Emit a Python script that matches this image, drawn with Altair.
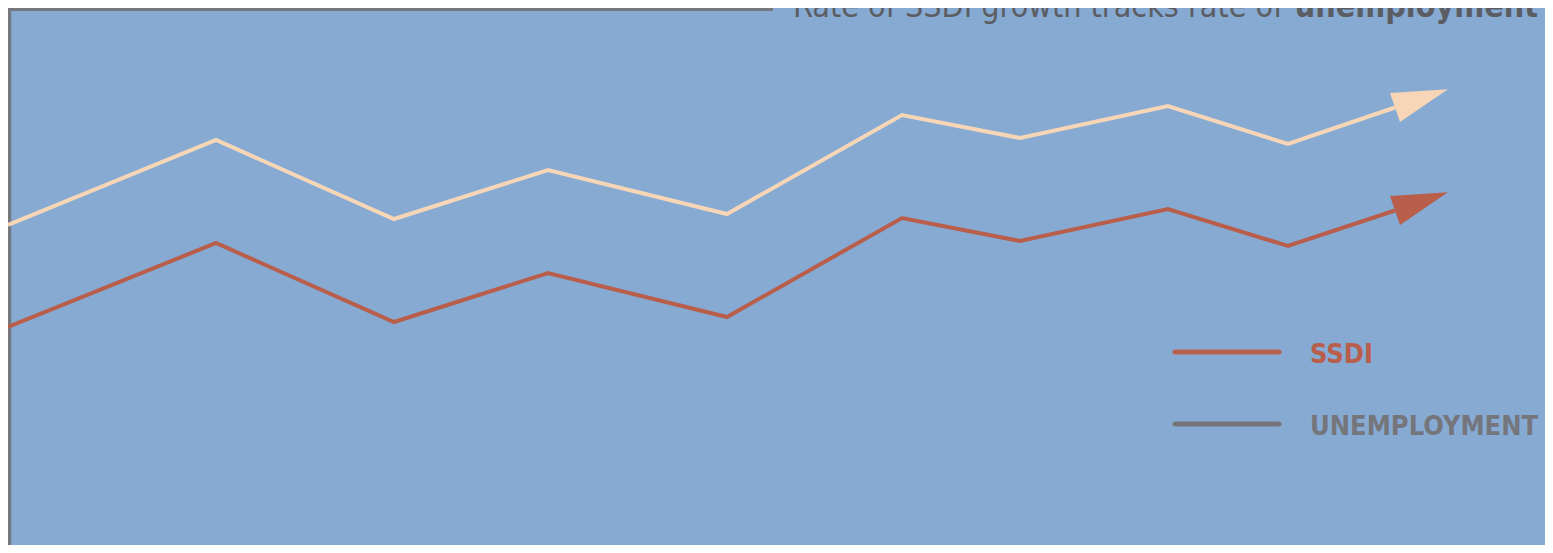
import altair as alt
import pandas as pd

# ---- data (arbitrary index units) ----
x_pos = [0, 2.08, 3.86, 5.40, 7.19, 8.94, 10.12, 11.60, 12.80, 13.87]
unemployment = [3.28, 4.13, 3.34, 3.83, 3.39, 4.38, 4.15, 4.47, 4.09, 4.455]
ssdi = [2.26, 3.10, 2.31, 2.80, 2.36, 3.35, 3.12, 3.44, 3.07, 3.425]
series_names = ["SSDI", "UNEMPLOYMENT"]
legend_labels = ["SSDI", "UNEMPLOYMENT"]
title_regular = "Rate of SSDI growth tracks rate of "
title_bold = "unemployment"

# ---- styles ----
BG = "#87aad3"
RED = "#b95e4a"
PEACH = "#f6d6b6"
GRAY_LEG = "#75767c"
GRAY_TITLE = "#5c5d62"
GRAY_AXIS = "#76787f"
line_colors = [RED, PEACH]
legend_colors = [RED, GRAY_LEG]
FONT = "DejaVu Sans Condensed, sans-serif"

rows = []
for name, vals in zip(series_names, (ssdi, unemployment)):
    for i, (x, y) in enumerate(zip(x_pos, vals)):
        rows.append({"series": name, "t": x, "v": y, "order": i})
df = pd.DataFrame(rows)
last = df[df["order"] == len(x_pos) - 1]

W, H = 1537, 537
xs = alt.Scale(domain=[0, 15.37], nice=False, zero=False)
ys = alt.Scale(domain=[0.08, 5.45], nice=False, zero=False)
color = alt.Color("series:N", scale=alt.Scale(domain=series_names, range=line_colors), legend=None)
X = alt.X("t:Q", scale=xs, axis=None)
Y = alt.Y("v:Q", scale=ys, axis=None)

lines = alt.Chart(df).mark_line(strokeWidth=4, strokeCap="butt", strokeJoin="miter").encode(
    x=X, y=Y, color=color, order="order:Q"
)
arrows = alt.Chart(last).mark_point(
    shape="M0,-0.55L2,0L0,0.55Z", filled=True, opacity=1, size=3136, angle=341, strokeWidth=0
).encode(x=X, y=Y, color=color)

one = pd.DataFrame({"k": [0]})
hline = alt.Chart(one).mark_rule(color=GRAY_AXIS, strokeWidth=3).encode(
    x=alt.value(0), x2=alt.value(765), y=alt.value(1.5)
)
vline = alt.Chart(one).mark_rule(color=GRAY_AXIS, strokeWidth=3.5).encode(
    x=alt.value(1.5), y=alt.value(0), y2=alt.value(H)
)

t_reg = alt.Chart(pd.DataFrame({"txt": [title_regular]})).mark_text(
    align="left", baseline="alphabetic", font=FONT, fontSize=32, fontWeight="normal", color=GRAY_TITLE
).encode(x=alt.value(785), y=alt.value(9), text="txt:N")
t_bold = alt.Chart(pd.DataFrame({"txt": [title_bold]})).mark_text(
    align="right", baseline="alphabetic", font=FONT, fontSize=32, fontWeight="bold", color=GRAY_TITLE
).encode(x=alt.value(1530), y=alt.value(9), text="txt:N")

legend_layers = []
for i, (lab, col) in enumerate(zip(legend_labels, legend_colors)):
    yy = 344 + i * 72
    legend_layers.append(
        alt.Chart(one).mark_rule(color=col, strokeWidth=5, strokeCap="round").encode(
            x=alt.value(1167), x2=alt.value(1271), y=alt.value(yy)
        )
    )
    legend_layers.append(
        alt.Chart(pd.DataFrame({"txt": [lab]})).mark_text(
            align="left", baseline="middle", font=FONT, fontSize=27, fontWeight="bold", color=col
        ).encode(x=alt.value(1302), y=alt.value(yy + 3), text="txt:N")
    )

chart = alt.layer(vline, hline, lines, arrows, t_reg, t_bold, *legend_layers).properties(
    width=W, height=H, padding=0, autosize="none", background=BG
).configure_view(stroke=None)

chart.save("out.html", embed_options={"renderer": "svg", "actions": False})
